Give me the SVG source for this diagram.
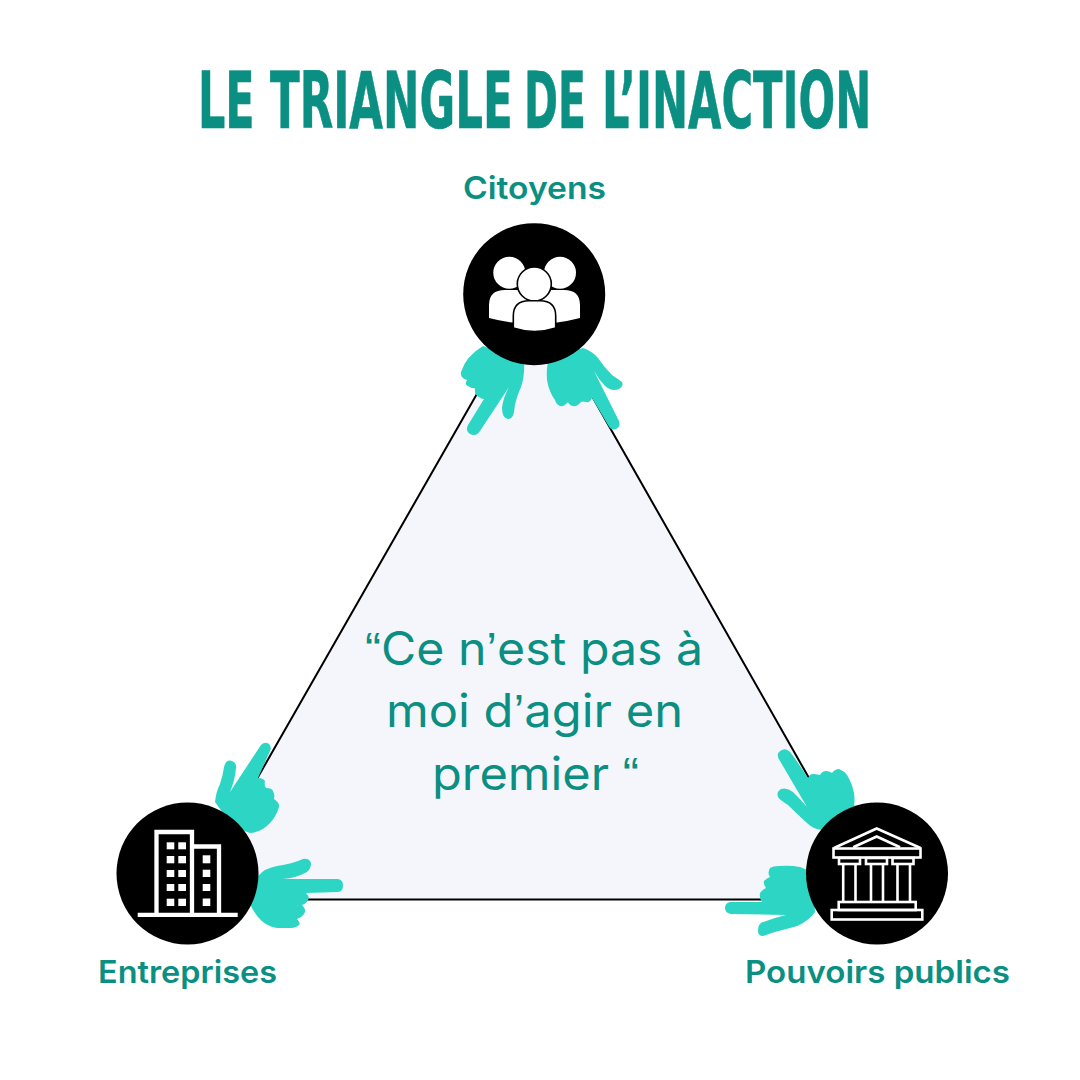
<svg xmlns="http://www.w3.org/2000/svg" width="1080" height="1080" viewBox="0 0 1080 1080">
<style>
.title{font-family:"DejaVu Sans","Liberation Sans",sans-serif;font-weight:700;font-size:78px;fill:#0a8f82;stroke:#0a8f82;stroke-width:.7}
.lab{font-family:Inter,"Noto Sans",sans-serif;font-weight:600;font-size:31px;fill:#0a8f82}
.quote{font-family:Inter,"Noto Sans",sans-serif;font-weight:400;font-size:46px;fill:#0a8f82}
.qm{font-family:"Liberation Sans",Arial,sans-serif}
.hand{fill:#2dd5c4}
.disc{fill:#000}
.w{fill:#fff}
.ol{fill:#fff;stroke:#000;stroke-width:1.6}
.ln{fill:none;stroke:#fff;stroke-width:4.3}
.tl{fill:none;stroke:#fff;stroke-width:2.6;stroke-linejoin:miter}
</style>
<rect width="1080" height="1080" fill="#fff"/>
<g id="title">
<text class="title" transform="translate(198 127.5) scale(.55 1)">LE</text>
<text class="title" transform="translate(270 127.5) scale(.558 1)">TRIANGLE</text>
<text class="title" transform="translate(524 127.5) scale(.525 1)">DE</text>
<text class="title" transform="translate(602 127.5) scale(.553 1)">L’INACTION</text>
</g>
<g id="connectors">
<path d="M534 294 L188 899.5 H878 Z" fill="#f4f6fb" stroke="#000" stroke-width="2"/>
</g>
<g id="quote">
<text class="quote" x="365" y="665" textLength="338" lengthAdjust="spacingAndGlyphs"><tspan class="qm">“</tspan>Ce n<tspan class="qm">’</tspan>est pas à</text>
<text class="quote" x="386" y="727" textLength="297" lengthAdjust="spacingAndGlyphs">moi d<tspan class="qm">’</tspan>agir en</text>
<text class="quote" x="432" y="790" textLength="207" lengthAdjust="spacingAndGlyphs">premier <tspan class="qm">“</tspan></text>
</g>
<g id="hands">
<path class="hand" d="M483 346 Q466 356 461 372 Q460 378 467 380 Q464 385 468 386 Q472 389 475 388 Q474 395 479 397 Q481 399 484 399 L468 425 Q465 431 470 434 Q476 437 480 431 L509 387 Q503 398 502 408 Q502 418 508 419 Q513 419 514 412 Q515 400 521 387 Q525 376 524 360 Z"/>
<path class="hand" d="M583 348 Q592 351 598 358 Q604 367 612 375 Q618 379 622 382 Q624 386 619 389 Q612 392 605 386 Q599 380 594 371 L619 421 Q621 427 616 429 Q611 431 608 425 L592 398 Q590 403 586 402 Q582 401 581 402 Q577 407 573 406 Q569 405 568 402 Q564 407 560 406 Q556 404 555 400 Q549 392 547 380 Q546 368 549 358 Z"/>
<path class="hand" d="M215 802 Q216 792 220 784 Q223 775 224 767 Q226 759 232 761 Q237 763 236 768 Q235 780 230 792 L261 745 Q265 741 269 744 Q272 747 270 751 L258 778 Q263 778 265 781 Q264 786 266 788 Q272 788 273 791 Q275 795 274 799 Q280 803 279 807 Q276 817 270 823 Q262 832 250 833 L233 827 Z"/>
<path class="hand" d="M258 876 Q265 868 277 866 Q292 864 303 859 Q309 858 311 863 Q311 869 307 872 Q296 878 283 879 L338 879 Q343 880 343 885 Q343 892 338 892 L306 893 Q310 897 308 900 Q306 904 302 905 Q306 909 305 912 Q303 917 297 919 Q301 923 299 925 Q296 928 292 928 L277 928 Q265 926 258 917 Q253 911 250 904 Z"/>
<path class="hand" d="M822 830 Q813 829 807 823 Q797 814 788 805 Q780 800 778 797 Q776 792 781 789 Q787 787 793 792 Q800 799 807 807 L780 761 Q776 755 779 752 Q784 747 789 751 Q793 755 808 778 Q809 775 812 774 Q817 774 820 775 Q822 771 826 771 Q829 771 832 773 Q835 769 839 769 Q844 771 847 775 Q852 783 854 793 Q855 800 854 808 Z"/>
<path class="hand" d="M815 912 Q811 918 803 923 Q797 927 790 928 Q777 931 763 936 Q758 936 758 931 Q758 925 761 923 Q773 918 786 915 L731 914 Q725 913 725 908 Q725 903 730 902 L762 902 Q759 899 760 893 Q762 890 766 888 Q763 884 764 881 Q767 878 770 877 Q767 873 770 868 Q773 866 779 866 Q790 865 800 867 Q806 869 812 873 Z"/>
</g>
<g id="citoyens">
<circle class="disc" cx="534.2" cy="294.2" r="71"/>
<circle class="w" cx="509.3" cy="272.7" r="16"/>
<circle class="w" cx="560" cy="272.7" r="16"/>
<path class="w" d="M489 318 V305 Q489 290 505 290 H564 Q580 290 580 305 V318 Q534 330 489 318 Z"/>
<circle class="ol" cx="534.3" cy="284" r="17"/>
<path class="ol" d="M513.3 328 V316 Q513.3 300.7 529 300.7 H540 Q555.7 300.7 555.7 316 V328 Q534.5 335 513.3 328 Z"/>
<text class="lab" x="463" y="198.5" textLength="143" lengthAdjust="spacingAndGlyphs">Citoyens</text>
</g>
<g id="entreprises">
<circle class="disc" cx="187.5" cy="873.5" r="71"/>
<path class="ln" d="M137.7 914.8 H237.7 M156.5 914.8 V832 H192 V914.8 M192 846.5 H219 V914.8"/>
<g class="w">
<rect x="166.7" y="842.3" width="7.6" height="7"/><rect x="178.3" y="842.3" width="7.7" height="7"/>
<rect x="166.7" y="856" width="7.6" height="7.3"/><rect x="178.3" y="856" width="7.7" height="7.3"/>
<rect x="166.7" y="870" width="7.6" height="7"/><rect x="178.3" y="870" width="7.7" height="7"/>
<rect x="166.7" y="884" width="7.6" height="7"/><rect x="178.3" y="884" width="7.7" height="7"/>
<rect x="166.7" y="898.7" width="7.6" height="7.3"/><rect x="178.3" y="898.7" width="7.7" height="7.3"/>
<rect x="202.7" y="855.3" width="7.6" height="8"/><rect x="202.7" y="869.7" width="7.6" height="7.3"/>
<rect x="202.7" y="884" width="7.6" height="7"/><rect x="202.7" y="898.5" width="7.6" height="7.5"/>
</g>
<text class="lab" x="98" y="982.5" textLength="179" lengthAdjust="spacingAndGlyphs">Entreprises</text>
</g>
<g id="pouvoirs-publics">
<circle class="disc" cx="877" cy="873.5" r="71"/>
<g class="tl">
<path d="M834 848 L876.7 828.5 L920.5 848"/>
<path d="M853.3 847.3 L876.7 836.5 L900 847.3"/>
<rect x="833.5" y="848.5" width="87" height="9"/>
<rect x="839" y="858" width="21" height="6"/><rect x="866" y="858" width="21" height="6"/><rect x="892.5" y="858" width="21" height="6"/>
<path d="M843.2 864 V902 M855.5 864 V902 M871 864 V902 M883 864 V902 M897.5 864 V902 M910 864 V902"/>
<rect x="838.7" y="902" width="77" height="8"/>
<rect x="831.7" y="910" width="90.6" height="9.5"/>
</g>
<text class="lab" x="745" y="982.5" textLength="265" lengthAdjust="spacingAndGlyphs">Pouvoirs publics</text>
</g>
</svg>
